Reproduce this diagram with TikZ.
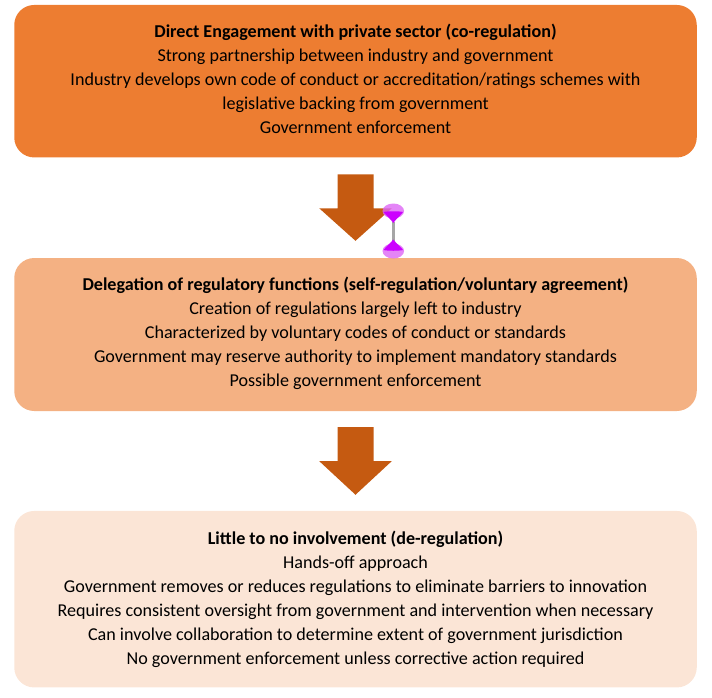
\documentclass[tikz,border=0pt]{standalone}
\usepackage{fontspec}
\setmainfont{Carlito}
\usetikzlibrary{calc}
\definecolor{boxA}{HTML}{ED7D31}
\definecolor{boxB}{HTML}{F4B183}
\definecolor{boxC}{HTML}{FBE5D6}
\definecolor{arrowc}{HTML}{C55A11}
\definecolor{handlelight}{HTML}{DD66F5}
\definecolor{handledark}{HTML}{CC00FF}
\definecolor{handlegray}{HTML}{A6A6A6}
\tikzset{
  stagebox/.style={draw=none, rounded corners=20pt, minimum width=682.5pt,
    inner sep=0pt},
  stagetext/.style={align=center, inner sep=0pt, font=\fontsize{18.1}{24}\selectfont},
  blockarrow/.style={fill=arrowc, draw=none},
}
\begin{document}
\begin{tikzpicture}[x=1pt,y=-1pt]
\useasboundingbox (0,0) rectangle (712,697);
\node[stagebox, fill=boxA, minimum height=152.5pt] (b1) at (355.5,81.2) {};
\node[stagetext] (t1) at ($(b1.center)+(0,-2)$)
 {\textbf{Direct Engagement with private sector (co-regulation)}\\
  Strong partnership between industry and government\\
  Industry develops own code of conduct or accreditation/ratings schemes with\\
  legislative backing from government\\
  Government enforcement};
\node[stagebox, fill=boxB, minimum height=153pt] (b2) at (355.5,334.5) {};
\node[stagetext] (t2) at ($(b2.center)+(0,-1)$)
 {\textbf{Delegation of regulatory functions (self-regulation/voluntary agreement)}\\
  Creation of regulations largely left to industry\\
  Characterized by voluntary codes of conduct or standards\\
  Government may reserve authority to implement mandatory standards\\
  Possible government enforcement};
\node[stagebox, fill=boxC, minimum height=176.5pt] (b3) at (355.5,599.2) {};
\node[stagetext] (t3) at (b3.center)
 {\textbf{Little to no involvement (de-regulation)}\\
  Hands-off approach\\
  Government removes or reduces regulations to eliminate barriers to innovation\\
  Requires consistent oversight from government and intervention when necessary\\
  Can involve collaboration to determine extent of government jurisdiction\\
  No government enforcement unless corrective action required};
% block arrows
\fill[blockarrow] ($(b1.south)+(-18,16.7)$) -- ($(b1.south)+(18,16.7)$)
  -- ($(b1.south)+(18,50.7)$) -- ($(b1.south)+(36.2,50.7)$)
  -- ($(b2.north)+(0,-17)$) -- ($(b1.south)+(-36.2,50.7)$)
  -- ($(b1.south)+(-18,50.7)$) -- cycle;
\fill[blockarrow] ($(b2.south)+(-18,16)$) -- ($(b2.south)+(18,16)$)
  -- ($(b2.south)+(18,50)$) -- ($(b2.south)+(36.2,50)$)
  -- ($(b3.north)+(0,-16)$) -- ($(b2.south)+(-36.2,50)$)
  -- ($(b2.south)+(-18,50)$) -- cycle;
% selection handle artifact
\coordinate (h1) at (393.3,211);
\coordinate (h2) at (393.3,251);
\draw[handlegray, line width=3.5pt] (393.3,222) -- (393.3,242);
\fill[handlelight, opacity=0.8] (h1) ellipse [x radius=10.8, y radius=7.5];
\fill[handledark] (383.5,212) .. controls (388,211) and (398.6,211) .. (403.1,212)
  .. controls (400,216) and (396,219) .. (393.3,223)
  .. controls (390.6,219) and (386.6,216) .. (383.5,212) -- cycle;
\fill[handlelight, opacity=0.8] (h2) ellipse [x radius=10.8, y radius=7.5];
\fill[handledark] (383.5,250) .. controls (386.6,246) and (390.6,243) .. (393.3,239.5)
  .. controls (396,243) and (400,246) .. (403.1,250)
  .. controls (398.6,251) and (388,251) .. (383.5,250) -- cycle;
\end{tikzpicture}
\end{document}
